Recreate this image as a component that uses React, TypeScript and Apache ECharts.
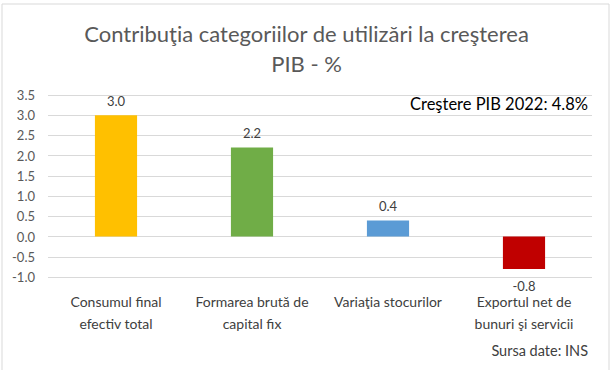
import React, { useEffect, useRef } from "react";
import * as echarts from "echarts";

const titleLines = ["Contribuţia categoriilor de utilizări la creşterea", "PIB - %"];
const categories = ["Consumul final\nefectiv total", "Formarea brută de\ncapital fix", "Variaţia stocurilor", "Exportul net de\nbunuri şi servicii"];
const values = [3.0, 2.2, 0.4, -0.8];
const barColors = ["#FFC000", "#70AD47", "#5B9BD5", "#C00000"];
const annotation = "Creştere PIB 2022: 4.8%";
const sourceNote = "Sursa date: INS";

const FONT = "Lato, 'Open Sans', sans-serif";

export default function App() {
  const ref = useRef<HTMLDivElement>(null);
  useEffect(() => {
    if (!ref.current) return;
    const chart = echarts.init(ref.current, null, { renderer: "svg" });
    chart.setOption({
      animation: false,
      backgroundColor: "#ffffff",
      textStyle: { fontFamily: FONT },
      title: {
        text: titleLines.join("\n"),
        left: "center",
        top: 13,
        textStyle: { fontFamily: FONT, fontSize: 22, fontWeight: "normal", color: "#595959", lineHeight: 30 },
      },
      grid: { left: 48, right: 21, top: 95, bottom: 93, containLabel: false },
      xAxis: {
        type: "category",
        data: categories,
        axisLine: { show: false },
        axisTick: { show: false },
        axisLabel: {
          interval: 0,
          color: "#404040",
          fontSize: 14,
          fontFamily: FONT,
          lineHeight: 22,
          margin: 13,
        },
      },
      yAxis: {
        type: "value",
        min: -1,
        max: 3.5,
        interval: 0.5,
        axisLine: { show: false },
        axisTick: { show: false },
        splitLine: { lineStyle: { color: "#D9D9D9", width: 1 } },
        axisLabel: {
          color: "#595959",
          fontSize: 13,
          fontFamily: FONT,
          margin: 13,
          formatter: (v: number) => v.toFixed(1),
        },
      },
      series: [
        {
          type: "bar",
          barWidth: "31%",
          data: values.map((v, i) => ({
            value: v,
            itemStyle: { color: barColors[i] },
            label: v < 0 ? { position: "bottom", distance: 11 } : undefined,
          })),
          label: {
            show: true,
            position: "top",
            distance: 8,
            color: "#404040",
            fontSize: 13,
            fontFamily: FONT,
            formatter: (p: any) => Number(p.value).toFixed(1),
          },
        },
      ],
      graphic: [
        {
          type: "rect",
          shape: { x: 2, y: 4, width: 607, height: 380 },
          style: { fill: "none", stroke: "#D9D9D9", lineWidth: 1 },
          silent: true,
        },
        {
          type: "text",
          right: 25,
          top: 95,
          style: { text: annotation, fontSize: 16.5, fontFamily: FONT, fill: "#000000" },
        },
        {
          type: "text",
          right: 25,
          top: 343,
          style: { text: sourceNote, fontSize: 14.5, fontFamily: FONT, fill: "#404040" },
        },
      ],
    });
    return () => chart.dispose();
  }, []);
  return <div ref={ref} style={{ position: "absolute", left: 0, top: 0, width: 613, height: 370 }} />;
}
